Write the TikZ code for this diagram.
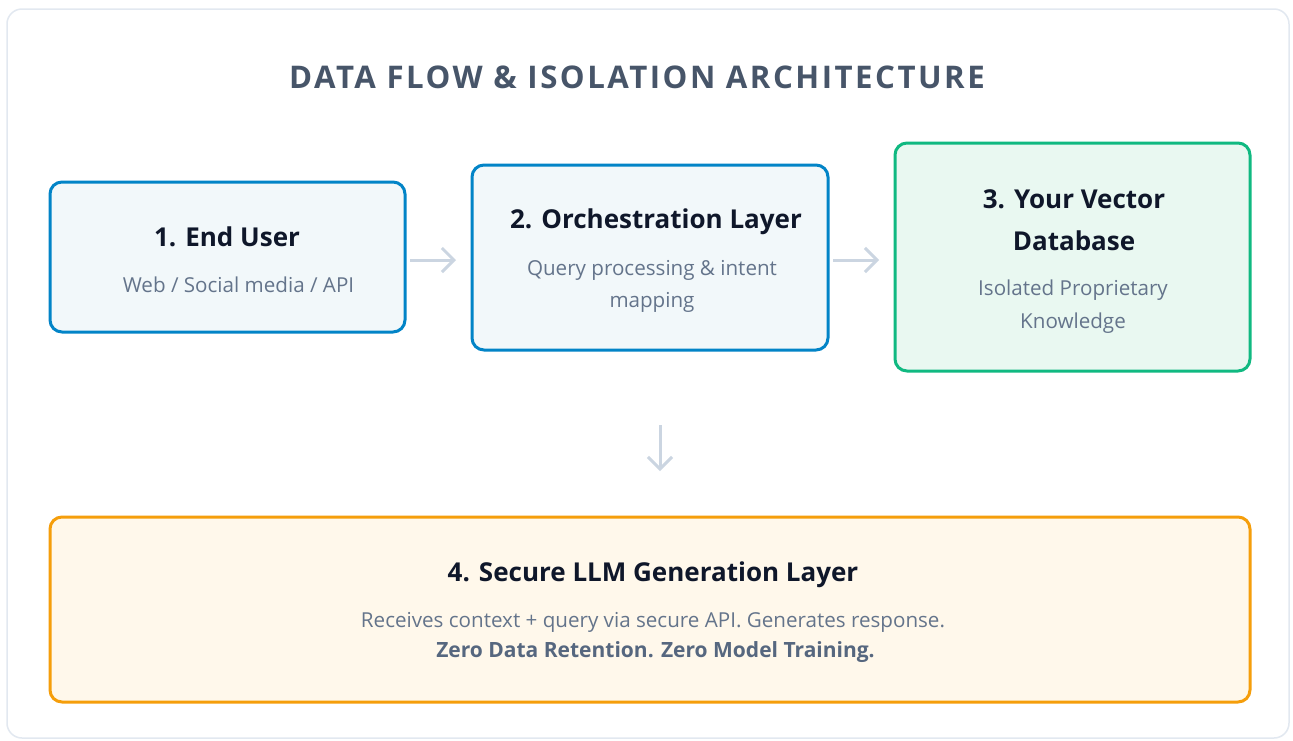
\documentclass[tikz,border=0pt]{standalone}
\usepackage{fontspec}
\setmainfont{Open Sans}
\newfontfamily\titlefont[LetterSpace=8]{Open Sans}
\usetikzlibrary{arrows.meta}
\definecolor{cardborder}{HTML}{E2E8F0}
\definecolor{blueline}{HTML}{0284C7}
\definecolor{bluefill}{HTML}{F2F8FA}
\definecolor{greenline}{HTML}{10B981}
\definecolor{greenfill}{HTML}{E9F8F1}
\definecolor{orangeline}{HTML}{F59E0B}
\definecolor{orangefill}{HTML}{FFF8EB}
\definecolor{headtext}{HTML}{0F172A}
\definecolor{subtext}{HTML}{64748B}
\definecolor{titletext}{HTML}{475569}
\definecolor{strongtext}{HTML}{56677F}
\definecolor{arrowgray}{HTML}{CBD5E1}
\tikzset{
  card/.style={draw=cardborder, line width=1.5pt, fill=white, rounded corners=15pt},
  stagebox/.style={line width=3pt, rounded corners=12pt, inner sep=0pt},
  bluebox/.style={stagebox, draw=blueline, fill=bluefill},
  greenbox/.style={stagebox, draw=greenline, fill=greenfill},
  orangebox/.style={stagebox, draw=orangeline, fill=orangefill},
  headlabel/.style={text=headtext, font=\fontsize{26}{30}\selectfont\bfseries, inner sep=0pt, anchor=center, align=center},
  sublabel/.style={text=subtext, font=\fontsize{20.6}{34}\selectfont, inner sep=0pt, anchor=center, align=center},
  flowarrow/.style={draw=arrowgray, line width=3pt, -{Straight Barb[length=12pt,width=24pt,line width=3pt]}}
}
\begin{document}
\begin{tikzpicture}[x=1pt,y=-1pt]
\useasboundingbox (0,0) rectangle (1293,740);
\fill[white] (0,0) rectangle (1293,740);
\draw[card] (7,9) rectangle (1289,738);
\node[text=titletext, font=\fontsize{31.2}{36}\selectfont\bfseries\titlefont, inner sep=0pt] (title) at (637,77) {DATA FLOW \& ISOLATION ARCHITECTURE};
% boxes
\node[bluebox, minimum width=355pt, minimum height=150pt] (b1) at (227.5,257) {};
\node[bluebox, minimum width=356pt, minimum height=185pt] (b2) at (650,257.5) {};
\node[greenbox, minimum width=355pt, minimum height=228pt] (b3) at (1072.5,257) {};
\node[orangebox, minimum width=1200pt, minimum height=185pt] (b4) at (650,609.5) {};
% texts
\node[headlabel] (t1) at (227,237) {1. End User};
\node[sublabel] (s1) at (238.5,285) {Web / Social media / API};
\node[headlabel] (t2) at (656,222) {2. Orchestration Layer};
\node[sublabel] (s2) at (652,270) {Query processing \& intent};
\node[sublabel] (s2b) at (652,302) {mapping};
\node[headlabel] (t3) at (1074,199) {3. Your Vector};
\node[headlabel] (t3b) at (1074,241) {Database};
\node[sublabel] (s3) at (1073,290) {Isolated Proprietary};
\node[sublabel] (s3b) at (1073,323) {Knowledge};
\node[headlabel] (t4) at (653,575) {4. Secure LLM Generation Layer};
\node[sublabel] (s4) at (653,622) {Receives context + query via secure API. Generates response.};
\node[sublabel, text=strongtext, font=\fontsize{21}{24}\selectfont\bfseries] (s4b) at (655.5,652) {Zero Data Retention. Zero Model Training.};
% arrows
\coordinate (a1s) at (410,260);
\coordinate (a1e) at (456,260);
\coordinate (a2s) at (833,260);
\coordinate (a2e) at (879,260);
\coordinate (a3s) at (660,425);
\coordinate (a3e) at (660,471);
\draw[flowarrow] (a1s) -- (a1e);
\draw[flowarrow] (a2s) -- (a2e);
\draw[flowarrow] (a3s) -- (a3e);
\end{tikzpicture}
\end{document}
